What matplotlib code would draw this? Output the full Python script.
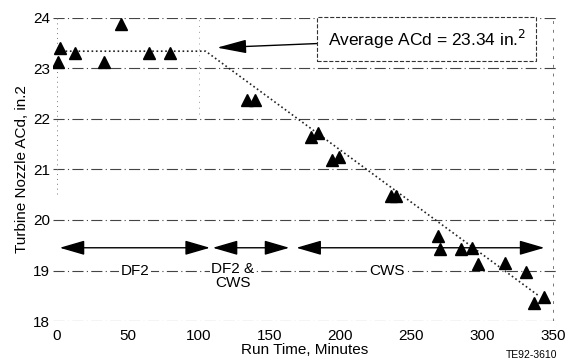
import numpy as np
from matplotlib import pyplot as plt

# data
run_time = [1, 2, 13, 33, 45, 65, 80, 134, 140, 179, 184, 194, 199, 236, 239,
            269, 270, 285, 293, 297, 316, 331, 337, 344]
acd = [23.12, 23.41, 23.30, 23.13, 23.88, 23.30, 23.30, 22.38, 22.38, 21.65, 21.72,
       21.18, 21.24, 20.48, 20.48, 19.68, 19.42, 19.42, 19.45, 19.12, 19.15, 18.97,
       18.35, 18.48]

trend_x = [0, 105, 340]
trend_y = [23.34, 23.34, 18.5]

avg_acd = 23.34

# fuel periods (start, end, label, label x)
periods = [(2, 108, "DF2", 55), (110, 164, "DF2 &\nCWS", 124), (169, 344, "CWS", 233)]
period_arrow_y = 19.45
period_label_y = 19.0

xticks = [0, 50, 100, 150, 200, 250, 300, 350]
yticks = [18, 19, 20, 21, 22, 23, 24]

plt.rcParams["font.family"] = ["Liberation Sans", "DejaVu Sans"]

fig = plt.figure(figsize=(5.72, 3.64), dpi=100)
ax = fig.add_axes([0.092, 0.118, 0.882, 0.833])

ax.set_xlim(-3, 353)
ax.set_ylim(18, 24)
for s in ax.spines.values():
    s.set_visible(False)

# grid lines
for y in yticks:
    ax.axhline(y, color="#444444", lw=0.8, ls=(0, (10, 3, 1, 3)), zorder=1)
ax.axvline(0, ymin=0.42, ymax=1.0, color="#777777", lw=0.7, ls=(0, (1, 4)), zorder=1)
ax.axvline(350, color="#777777", lw=0.7, ls=(0, (3, 6)), zorder=1)
ax.plot([100, 100], [22.1, 24], color="#999999", lw=0.7, ls=(0, (1, 5)), zorder=1)

ax.set_xticks(xticks)
ax.set_yticks(yticks)
ax.tick_params(axis="x", length=0, labelsize=11, pad=6)
ax.tick_params(axis="y", length=0, labelsize=11, pad=2)

# trend line
ax.plot(trend_x, trend_y, color="#222222", lw=1.2, ls=(0, (1, 1.6)), zorder=2)

# data points
ax.plot(run_time, acd, ls="none", marker="^", ms=8, color="black", zorder=3)

# fuel period arrows
for start, end, label, lx in periods:
    ax.annotate("", xy=(end, period_arrow_y), xytext=(start, period_arrow_y),
                arrowprops=dict(arrowstyle="<|-|>,head_length=1.1,head_width=0.32",
                                mutation_scale=14, color="black", lw=1.0,
                                shrinkA=0, shrinkB=0), zorder=3)
    multi = "\n" in label
    ax.text(lx, period_label_y + (0.17 if multi else 0), label, ha="center",
            va="top" if multi else "center", fontsize=11, linespacing=1.05, zorder=4,
            bbox=dict(boxstyle="square,pad=0.1", fc="white", ec="none"))

# average annotation
ax.annotate(f"Average ACd = {avg_acd:.2f} in.$^2$", xy=(113, 23.41), xytext=(261, 23.58),
            ha="center", va="center", fontsize=12.5,
            bbox=dict(boxstyle="square,pad=0.6", fc="white", ec="#333333", lw=0.8, ls="--"),
            arrowprops=dict(arrowstyle="-|>,head_length=1.3,head_width=0.3",
                            mutation_scale=14, color="black", lw=1.0, shrinkA=0, shrinkB=0),
            zorder=5)

ax.set_xlabel("Run Time, Minutes", fontsize=11, labelpad=0)
ax.set_ylabel("Turbine Nozzle ACd, in.2", fontsize=11, labelpad=3)
fig.text(0.93, 0.012, "TE92-3610", fontsize=7.5, ha="center", va="bottom")

fig.savefig("out.png", dpi=100)
